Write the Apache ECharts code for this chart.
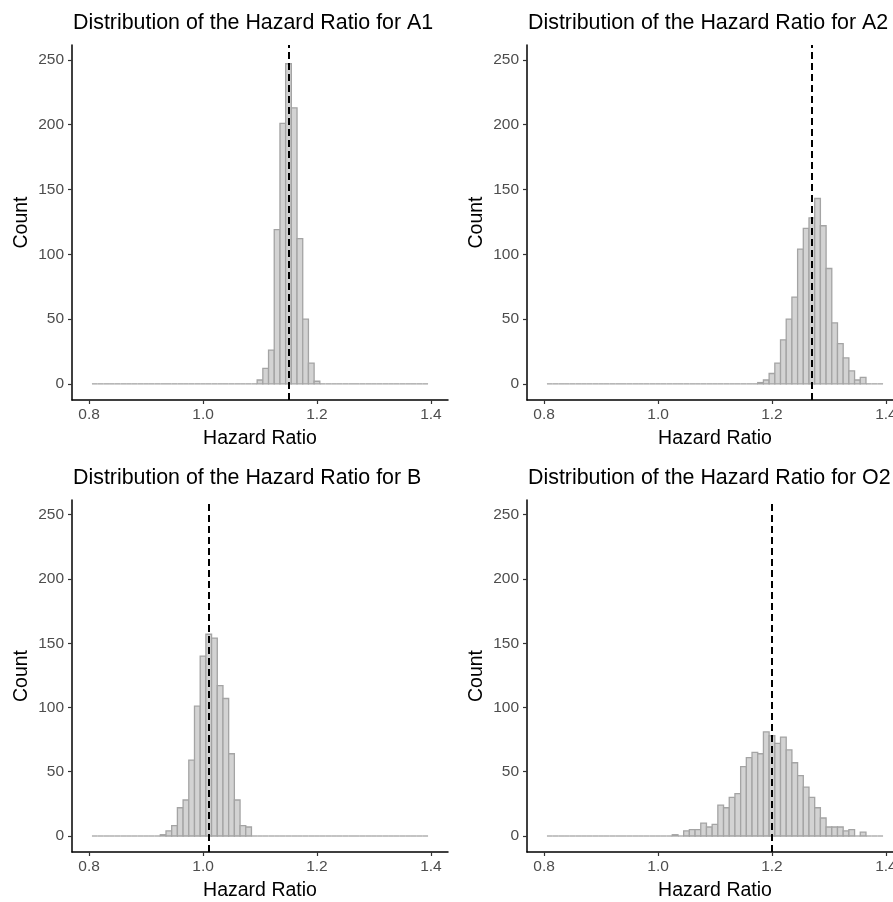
<!DOCTYPE html>
<html lang="en">
<head>
  <meta charset="UTF-8">
  <title>Distribution of the Hazard Ratio</title>
  <script src="https://cdn.jsdelivr.net/npm/echarts@6/dist/echarts.min.js"></script>
  <style>
    html, body {
      width: 100%;
      height: 100%;
      margin: 0;
      padding: 0;
      overflow: hidden;
      background: #fff;
    }
    /* a bit wider than the window: the right-hand panels run off the edge */
    #chart {
      width: 912px;
      height: 902px;
    }
  </style>
</head>
<body>
  <div id="chart"></div>
  <script>
    // bin centres 0.81 ... 1.39, bin width 0.01
    const binWidth = 0.01
    const binCenters = [
      0.81, 0.82, 0.83, 0.84, 0.85, 0.86, 0.87, 0.88, 0.89, 0.90,
      0.91, 0.92, 0.93, 0.94, 0.95, 0.96, 0.97, 0.98, 0.99, 1.00,
      1.01, 1.02, 1.03, 1.04, 1.05, 1.06, 1.07, 1.08, 1.09, 1.10,
      1.11, 1.12, 1.13, 1.14, 1.15, 1.16, 1.17, 1.18, 1.19, 1.20,
      1.21, 1.22, 1.23, 1.24, 1.25, 1.26, 1.27, 1.28, 1.29, 1.30,
      1.31, 1.32, 1.33, 1.34, 1.35, 1.36, 1.37, 1.38, 1.39
    ]

    const countsA1 = [
      0, 0, 0, 0, 0, 0, 0, 0, 0, 0,
      0, 0, 0, 0, 0, 0, 0, 0, 0, 0,
      0, 0, 0, 0, 0, 0, 0, 0, 0, 3,
      12, 26, 119, 201, 247, 213, 112, 50, 16, 2,
      0, 0, 0, 0, 0, 0, 0, 0, 0, 0,
      0, 0, 0, 0, 0, 0, 0, 0, 0
    ]
    const countsA2 = [
      0, 0, 0, 0, 0, 0, 0, 0, 0, 0,
      0, 0, 0, 0, 0, 0, 0, 0, 0, 0,
      0, 0, 0, 0, 0, 0, 0, 0, 0, 0,
      0, 0, 0, 0, 0, 0, 0, 1, 3, 8,
      16, 34, 50, 67, 104, 120, 128, 143, 122, 89,
      47, 31, 20, 10, 3, 5, 0, 0, 0
    ]
    const countsB = [
      0, 0, 0, 0, 0, 0, 0, 0, 0, 0,
      0, 0, 1, 4, 8, 22, 28, 59, 101, 140,
      157, 154, 117, 107, 64, 28, 8, 7, 0, 0,
      0, 0, 0, 0, 0, 0, 0, 0, 0, 0,
      0, 0, 0, 0, 0, 0, 0, 0, 0, 0,
      0, 0, 0, 0, 0, 0, 0, 0, 0
    ]
    const countsO2 = [
      0, 0, 0, 0, 0, 0, 0, 0, 0, 0,
      0, 0, 0, 0, 0, 0, 0, 0, 0, 0,
      0, 0, 1, 0, 4, 5, 5, 10, 7, 9,
      24, 22, 30, 33, 54, 61, 65, 64, 81, 78,
      72, 77, 67, 57, 47, 38, 30, 22, 14, 7,
      7, 7, 4, 5, 0, 3, 0, 0, 0
    ]

    const panelNames = ['A1', 'A2', 'B', 'O2']
    const panelCounts = [countsA1, countsA2, countsB, countsO2]
    const meanLines = [1.1514, 1.2715, 1.014, 1.198]

    const xTicks = [0.8, 1.0, 1.2, 1.4]
    const yTicks = [0, 50, 100, 150, 200, 250]

    const font = '"Liberation Sans", Arial, sans-serif'
    const panelLeft = [72, 527, 72, 527]
    const panelTop = [45, 45, 500, 500]
    const panelW = 376
    const panelH = 355

    function renderBin(params, api) {
      const x = api.value(0)
      const c = api.value(1)
      const tl = api.coord([x - binWidth / 2, c])
      const br = api.coord([x + binWidth / 2, 0])
      if (c === 0) {
        return {
          type: 'line',
          shape: { x1: tl[0], y1: br[1], x2: br[0], y2: br[1] },
          style: { stroke: '#a4a4a4', lineWidth: 1.3 }
        }
      }
      return {
        type: 'rect',
        shape: { x: tl[0], y: tl[1], width: br[0] - tl[0], height: br[1] - tl[1] },
        style: { fill: '#d3d3d3', stroke: '#a4a4a4', lineWidth: 1.3 }
      }
    }

    const chart = echarts.init(document.getElementById('chart'))

    const titles = [], grids = [], xAxes = [], yAxes = [], series = []
    panelNames.forEach((name, i) => {
      titles.push({
        text: 'Distribution of the Hazard Ratio for ' + name,
        left: panelLeft[i] + 1,
        top: panelTop[i] - 32,
        padding: 0,
        textStyle: { fontFamily: font, fontSize: 21.4, fontWeight: 'normal', color: '#000' }
      })
      grids.push({
        left: panelLeft[i], top: panelTop[i], width: panelW, height: panelH,
        containLabel: false
      })
      xAxes.push({
        type: 'value',
        gridIndex: i,
        min: 0.77,
        max: 1.43,
        name: 'Hazard Ratio',
        nameLocation: 'middle',
        nameGap: 29,
        nameTextStyle: { fontFamily: font, fontSize: 19.5, color: '#000' },
        splitLine: { show: false },
        axisLine: { onZero: false, lineStyle: { color: '#000', width: 1.5 } },
        axisTick: { customValues: xTicks, length: 4, lineStyle: { color: '#333', width: 1.2 } },
        axisLabel: {
          customValues: xTicks,
          formatter: v => v.toFixed(1),
          margin: 7,
          fontFamily: font, fontSize: 15.5, color: '#4d4d4d'
        }
      })
      yAxes.push({
        type: 'value',
        gridIndex: i,
        min: -12.45,
        max: 261.45,
        name: 'Count',
        nameLocation: 'middle',
        nameGap: 40,
        nameTextStyle: { fontFamily: font, fontSize: 19.5, color: '#000' },
        splitLine: { show: false },
        axisLine: { onZero: false, lineStyle: { color: '#000', width: 1.5 } },
        axisTick: { customValues: yTicks, length: 4, lineStyle: { color: '#333', width: 1.2 } },
        axisLabel: {
          customValues: yTicks,
          margin: 8,
          fontFamily: font, fontSize: 15.5, color: '#4d4d4d'
        }
      })
      series.push({
        type: 'custom',
        xAxisIndex: i,
        yAxisIndex: i,
        renderItem: renderBin,
        encode: { x: 0, y: 1 },
        data: binCenters.map((c, k) => [c, panelCounts[i][k]]),
        clip: false,
        markLine: {
          silent: true,
          symbol: 'none',
          label: { show: false },
          lineStyle: { color: '#000', type: [7, 4], width: 2 },
          data: [{ xAxis: meanLines[i] }]
        }
      })
    })

    chart.setOption({
      animation: false,
      title: titles,
      grid: grids,
      xAxis: xAxes,
      yAxis: yAxes,
      series
    })
  </script>
</body>
</html>
